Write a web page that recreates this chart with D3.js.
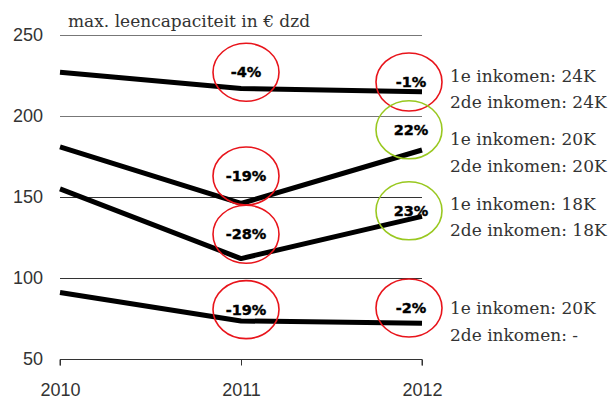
<!DOCTYPE html>
<html><head><meta charset="utf-8">
<script src="https://cdn.jsdelivr.net/npm/d3@7"></script>
<style>body{margin:0;background:#fff}</style>
</head><body>
<svg id="c" width="614" height="399"></svg>
<script>
const years = [2010, 2011, 2012];
const yTicks = [50, 100, 150, 200, 250];
const seriesA = [227, 217, 215];   // 24K / 24K
const seriesB = [181, 146, 179];   // 20K / 20K
const seriesC = [155, 112, 138];   // 18K / 18K
const seriesD = [91, 73.5, 72];    // 20K / -
const seriesLabels = [
  ["1e inkomen: 24K", "2de inkomen: 24K"],
  ["1e inkomen: 20K", "2de inkomen: 20K"],
  ["1e inkomen: 18K", "2de inkomen: 18K"],
  ["1e inkomen: 20K", "2de inkomen: -"]
];
const changeLabels = [
  {year: 2011, text: "-4%", at: 227, kind: "down"},
  {year: 2011, text: "-19%", at: 163, kind: "down"},
  {year: 2011, text: "-28%", at: 127, kind: "down"},
  {year: 2011, text: "-19%", at: 80.5, kind: "down"},
  {year: 2012, text: "-1%", at: 221, kind: "down"},
  {year: 2012, text: "22%", at: 191.5, kind: "up"},
  {year: 2012, text: "23%", at: 141.5, kind: "up"},
  {year: 2012, text: "-2%", at: 81.5, kind: "down"}
];
const labelAnchors = [221, 182, 142, 77.5];
const title = "max. leencapaciteit in € dzd";

const svg = d3.select("#c");
const x = d3.scalePoint().domain(years).range([60, 422]);
const y = d3.scaleLinear().domain([50, 250]).range([359, 35]);

// gridlines
svg.append("g").selectAll("line").data(yTicks.filter(d => d > 50)).join("line")
  .attr("x1", 60).attr("x2", 422)
  .attr("y1", d => y(d) + 0.5).attr("y2", d => y(d) + 0.5)
  .attr("stroke", d => d >= 200 ? "#777" : "#333").attr("stroke-width", 1);

// y labels
svg.append("g").selectAll("text").data(yTicks).join("text")
  .attr("x", 43).attr("y", d => y(d)).attr("dy", "0.35em")
  .attr("text-anchor", "end")
  .style("font-family", "Liberation Sans").style("font-size", "18px")
  .attr("fill", "#333").text(d => d);

// x axis
const xAxis = d3.axisBottom(x).tickSize(6).tickPadding(18).tickFormat(d3.format("d"));
const gx = svg.append("g").attr("transform", `translate(0,${y(50) + 0.5})`).call(xAxis);
gx.select(".domain").attr("d", `M60,6V0H422V6`).attr("stroke", "#333");
gx.selectAll(".tick line").attr("stroke", "#333");
gx.selectAll(".tick text").style("font-family", "Liberation Sans").style("font-size", "18px").attr("fill", "#333");

// title
svg.append("text").attr("x", 68).attr("y", 27).text(title)
  .style("font-family", "DejaVu Serif").style("font-size", "17px").attr("fill", "#333");

// lines
const allSeries = [seriesA, seriesB, seriesC, seriesD];
const line = d3.line().x((d, i) => x(years[i])).y(d => y(d));
svg.append("g").selectAll("path").data(allSeries).join("path")
  .attr("d", line).attr("fill", "none").attr("stroke", "#000")
  .attr("stroke-width", 5).attr("stroke-linejoin", "round");

// ellipses + change labels
const ga = svg.append("g").selectAll("g").data(changeLabels).join("g")
  .attr("transform", d => `translate(${x(d.year) + (d.year === 2011 ? 5 : -13)},${y(d.at)})`);
ga.append("ellipse").attr("rx", 33).attr("ry", 29)
  .attr("fill", "none").attr("stroke-width", 1.6)
  .attr("stroke", d => d.kind === "up" ? "#99c820" : "#e8141b");
ga.append("text").attr("text-anchor", "middle").attr("dy", "0.36em")
  .attr("x", d => d.year === 2012 ? 2 : 0)
  .style("font-family", "'DejaVu Sans'").style("font-weight", "700").style("font-size", "14.5px")
  .attr("fill", "#000").attr("stroke", "#000").attr("stroke-width", 0.4).text(d => d.text);

// series labels
const gl = svg.append("g").selectAll("text").data(seriesLabels).join("text")
  .attr("x", 450).attr("y", (d, i) => y(labelAnchors[i]))
  .style("font-family", "DejaVu Serif").style("font-size", "17px").attr("fill", "#333");
gl.selectAll("tspan").data(d => d).join("tspan")
  .attr("x", 450).attr("dy", (d, i) => i === 0 ? 0 : 26.5).text(d => d);
</script>
</body></html>
